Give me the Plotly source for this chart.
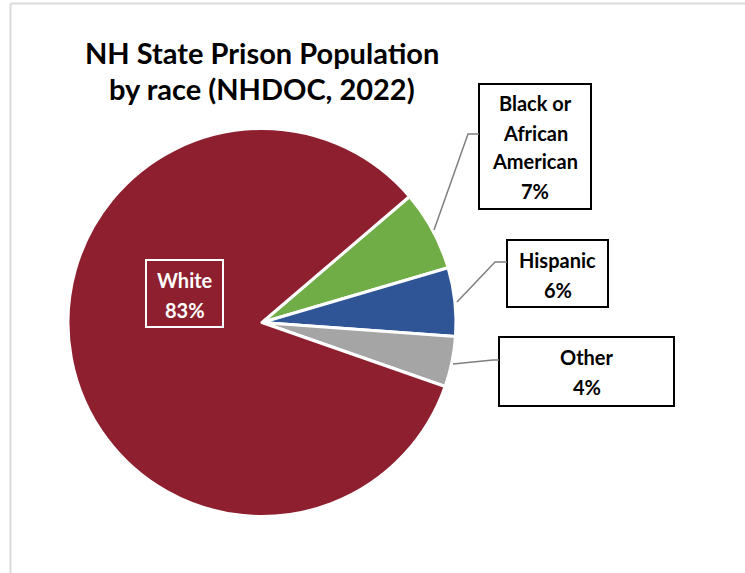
import plotly.graph_objects as go

W, H = 745, 573

categories = ["Black or African American", "Hispanic", "Other", "White"]
label_lines = [["Black or", "African", "American"], ["Hispanic"], ["Other"], ["White"]]
values = [6.7, 5.7, 4.2, 83.4]
colors = ["#70AD47", "#2F5597", "#A5A5A5", "#8E1F2F"]
title_lines = ["NH State Prison Population", "by race (NHDOC, 2022)"]


def px(x):
    return x / W


def py(y):
    return 1 - y / H


cx, cy, r = 262, 322.5, 194
FONT = "Lato"

fig = go.Figure(go.Pie(
    labels=categories,
    values=values,
    sort=False,
    direction="clockwise",
    rotation=49.5,
    marker=dict(colors=colors, line=dict(color="white", width=3)),
    textinfo="none",
    hoverinfo="label+percent",
    showlegend=False,
    domain=dict(x=[px(cx - r), px(cx + r)], y=[py(cy + r), py(cy - r)]),
))

shapes = []
annotations = []

# frame
shapes.append(dict(type="line", xref="paper", yref="paper", x0=px(10.5), x1=px(W + 5), y0=py(3.5), y1=py(3.5),
                   line=dict(color="#D9D9D9", width=2)))
shapes.append(dict(type="line", xref="paper", yref="paper", x0=px(10.5), x1=px(10.5), y0=py(3.5), y1=py(H + 5),
                   line=dict(color="#D9D9D9", width=2)))

# title
for i, t in enumerate(title_lines):
    annotations.append(dict(text="<b>%s</b>" % t, x=px(262), y=py(52 + 37 * i), xref="paper", yref="paper",
                            showarrow=False, xanchor="center", yanchor="middle",
                            font=dict(family=FONT, size=29, color="black")))

total = sum(values)
pcts = ["%d%%" % round(v / total * 100) for v in values]

# label boxes: (x0, y0, x1, y1), text center x, first line y, spacing, border color, text color
boxes = [
    ((479, 84, 591, 209), 535, 103.5, 29, "black", "black"),
    ((507, 240, 608, 307), 557.5, 260, 30, "black", "black"),
    ((499, 337, 674, 406), 586.5, 357, 30, "black", "black"),
    ((146, 260, 223, 327), 184.5, 280, 30, "white", "white"),
]
leaders = [
    [(434, 230), (468, 134), (479, 134)],
    [(457, 302), (495, 262), (507, 262)],
    [(453, 364), (493, 360), (499, 360)],
    None,
]

for i in range(len(categories)):
    (x0, y0, x1, y1), tx, ty, sp, bc, tc = boxes[i]
    shapes.append(dict(type="rect", xref="paper", yref="paper", x0=px(x0), x1=px(x1), y0=py(y1), y1=py(y0),
                       line=dict(color=bc, width=2), fillcolor="rgba(0,0,0,0)" if bc == "white" else "white"))
    lines = label_lines[i] + [pcts[i]]
    for j, ln in enumerate(lines):
        annotations.append(dict(text="<b>%s</b>" % ln, x=px(tx), y=py(ty + sp * j), xref="paper", yref="paper",
                                showarrow=False, xanchor="center", yanchor="middle",
                                font=dict(family=FONT, size=20, color=tc)))
    if leaders[i]:
        pts = leaders[i]
        path = "M " + " L ".join("%f,%f" % (px(a), py(b)) for a, b in pts)
        shapes.append(dict(type="path", xref="paper", yref="paper", path=path,
                           line=dict(color="#7F7F7F", width=1.5)))

fig.update_layout(
    width=W, height=H,
    margin=dict(l=0, r=0, t=0, b=0),
    paper_bgcolor="white",
    plot_bgcolor="white",
    shapes=shapes,
    annotations=annotations,
)

fig.write_html("out.html", config={"displayModeBar": False},
               post_script="document.body.style.margin='0';document.body.style.overflow='hidden';")
